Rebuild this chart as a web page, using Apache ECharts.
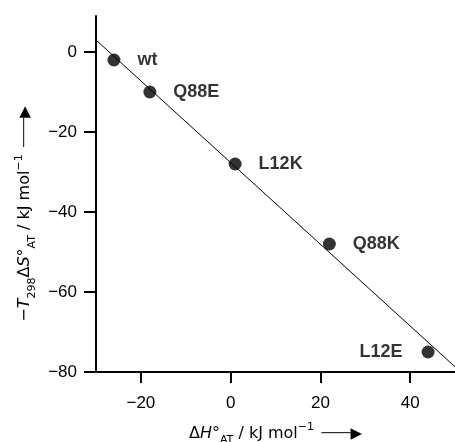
<!DOCTYPE html>
<html>
<head>
<meta charset="utf-8">
<script src="https://cdn.jsdelivr.net/npm/echarts@6/dist/echarts.min.js"></script>
<style>
  html, body { margin: 0; padding: 0; background: #fff; }
  #main { width: 455px; height: 442px; }
</style>
</head>
<body>
<div id="main"></div>
<script>
// mutants: dH (x) vs -T dS (y)
const mutants = ['wt', 'Q88E', 'L12K', 'Q88K', 'L12E'];
const dH = [-26, -18, 1, 22, 44];
const TdS = [-2, -10, -28, -48, -75];
const labelSide = ['right', 'right', 'right', 'right', 'left'];

// fitted line (ends at the axis limits)
const fitX = [-30, 50];
const fitY = [3.0, -78.7];

const xTicks = [-20, 0, 20, 40];
const yTicks = [-80, -60, -40, -20, 0];

const font = 'Liberation Sans, Arial, sans-serif';
const titleFont = 'DejaVu Sans';
const fmt = (v) => (v < 0 ? '\u2212' + Math.abs(v) : String(v));

const nameRich = {
  n: { fontSize: 16, fontFamily: titleFont, color: '#000', lineHeight: 24 },
  i: { fontSize: 16, fontFamily: titleFont, fontStyle: 'italic', color: '#000', lineHeight: 24 },
  sub: { fontSize: 11, fontFamily: titleFont, color: '#000', lineHeight: 11, verticalAlign: 'bottom' },
  sup: { fontSize: 11, fontFamily: titleFont, color: '#000', lineHeight: 11, verticalAlign: 'top' },
  arr: { fontSize: 12, fontFamily: 'DejaVu Sans', color: '#000', lineHeight: 24 },
  head: { fontSize: 15, fontFamily: 'DejaVu Sans', color: '#000', lineHeight: 24 }
};
const arrow = '{arr|  \u2500\u2500\u2500\u2500}{head|\u25b6}';

const chart = echarts.init(document.getElementById('main'));

const points = dH.map((x, i) => ({
  value: [x, TdS[i]],
  name: mutants[i],
  label: {
    show: true,
    position: labelSide[i],
    distance: labelSide[i] === 'right' ? 17 : 19,
    formatter: '{b}',
    fontFamily: font,
    fontWeight: 'bold',
    fontSize: 18,
    color: '#000'
  }
}));

chart.setOption({
  animation: false,
  backgroundColor: '#fff',
  grid: { left: 96, right: 0, top: 16, bottom: 70, outerBoundsMode: 'none', containLabel: false },
  xAxis: {
    type: 'value',
    min: -30,
    max: 50,
    name: '{n|\u0394}{i|H}{n|\u00b0}{sub|AT}{n| / kJ mol}{sup|\u22121}' + arrow,
    nameLocation: 'middle',
    nameGap: 50,
    nameTextStyle: { rich: nameRich },
    axisLine: { show: true, onZero: false, lineStyle: { color: '#000', width: 2 } },
    axisTick: { show: true, customValues: xTicks, length: 11, lineStyle: { color: '#000', width: 2 } },
    axisLabel: {
      customValues: xTicks,
      formatter: fmt,
      margin: 23,
      fontFamily: font,
      fontSize: 17,
      color: '#000'
    },
    splitLine: { show: false }
  },
  yAxis: {
    type: 'value',
    min: -80,
    max: 9,
    name: '{n|\u2212}{i|T}{sub|298}{n|\u0394}{i|S}{n|\u00b0}{sub|AT}{n| / kJ mol}{sup|\u22121}' + arrow,
    nameLocation: 'middle',
    nameGap: 52,
    nameRotate: 90,
    nameTextStyle: { rich: nameRich, padding: [0, 40, 0, 0] },
    axisLine: { show: true, onZero: false, lineStyle: { color: '#000', width: 2 } },
    axisTick: { show: true, customValues: yTicks, length: 12, lineStyle: { color: '#000', width: 2 } },
    axisLabel: {
      customValues: yTicks,
      formatter: fmt,
      margin: 19,
      fontFamily: font,
      fontSize: 17,
      color: '#000'
    },
    splitLine: { show: false }
  },
  series: [
    {
      type: 'line',
      data: fitX.map((x, i) => [x, fitY[i]]),
      showSymbol: false,
      symbol: 'none',
      lineStyle: { color: '#000', width: 1 },
      silent: true,
      z: 1
    },
    {
      type: 'scatter',
      data: points,
      symbol: 'circle',
      symbolSize: 13,
      itemStyle: { color: '#000' },
      z: 2
    }
  ]
});
</script>
</body>
</html>
